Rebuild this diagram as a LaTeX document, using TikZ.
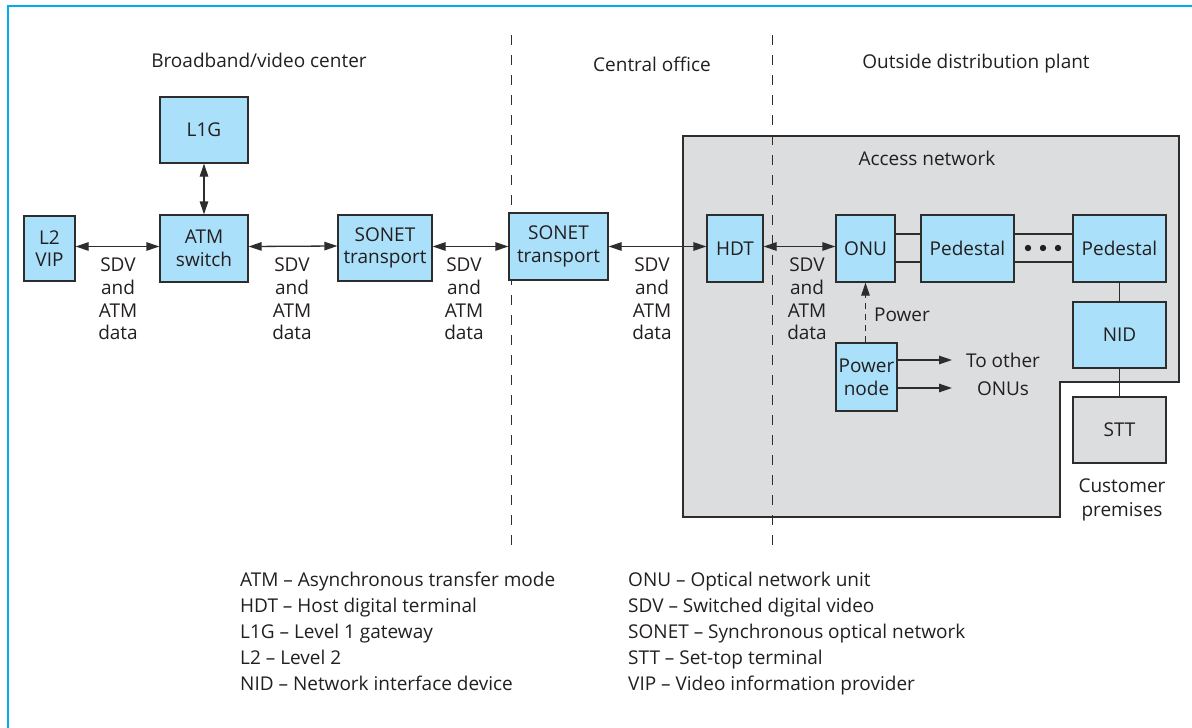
\documentclass[tikz,border=0pt]{standalone}
\usepackage{fontspec}
\setmainfont{Open Sans}
\usetikzlibrary{arrows.meta}
\definecolor{boxblue}{RGB}{170,224,249}
\definecolor{regiongray}{RGB}{220,221,222}
\definecolor{framblue}{RGB}{0,174,239}
\definecolor{inkc}{RGB}{35,31,32}
\definecolor{linec}{RGB}{45,45,45}
\tikzset{
  bx/.style={draw=linec, fill=boxblue, line width=1.3pt, inner sep=0pt, align=center, text=inkc},
  gbx/.style={bx, fill=regiongray},
  lbl/.style={align=center, text=inkc, inner sep=0pt},
  dbl/.style={line width=1.3pt, draw=linec, {Triangle[length=13pt,width=8.5pt]}-{Triangle[length=13pt,width=8.5pt]}},
  sgl/.style={line width=1.3pt, draw=linec, -{Triangle[length=13pt,width=8.5pt]}},
  plain/.style={line width=1.3pt, draw=linec},
  divider/.style={draw=linec, line width=1pt, dash pattern=on 10pt off 10pt},
}
\begin{document}
\begin{tikzpicture}[x=1pt,y=-1pt,font=\fontsize{19}{22.7}\selectfont]
\useasboundingbox (0,0) rectangle (1192,728);
% frame
\draw[framblue, line width=2.6pt] (8,728) -- (8,6) -- (1192,6);
% access network region
\draw[fill=regiongray, draw=linec, line width=1.3pt] (683,136) -- (1179,136) -- (1179,382) -- (1060,382) -- (1060,517) -- (683,517) -- cycle;
% dividers
\draw[divider] (511,35) -- (511,550);
\draw[divider] (772,35) -- (772,550);
% headings
\node[lbl] (hbvc) at (259,60) {Broadband/video center};
\node[lbl] (hco) at (652,64) {Central office};
\node[lbl] (hodp) at (976,64) {Outside distribution plant};
\node[lbl] (han) at (927,158) {Access network};
% boxes
\node[bx, minimum width=51pt, minimum height=65pt] (l2vip) at (49.5,248.5) {L2\\VIP};
\node[bx, minimum width=88pt, minimum height=66pt] (l1g) at (204,130) {L1G};
\node[bx, minimum width=88pt, minimum height=67pt] (atm) at (204,248.5) {ATM\\switch};
\node[bx, minimum width=94pt, minimum height=66pt] (sonet1) at (385,248) {SONET\\transport};
\node[bx, minimum width=99pt, minimum height=67pt] (sonet2) at (558.5,246.5) {SONET\\transport};
\node[bx, minimum width=56pt, minimum height=67pt] (hdt) at (735,248.5) {HDT};
\node[bx, minimum width=59pt, minimum height=67pt] (onu) at (865.5,248.5) {ONU};
\node[bx, minimum width=93pt, minimum height=67pt] (ped1) at (967.5,248.5) {Pedestal};
\node[bx, minimum width=93pt, minimum height=67pt] (ped2) at (1119.5,248.5) {Pedestal};
\node[bx, minimum width=93pt, minimum height=66pt] (nid) at (1119.5,335) {NID};
\node[gbx, minimum width=93pt, minimum height=66pt] (stt) at (1119.5,430) {STT};
\node[bx, minimum width=61pt, minimum height=68pt] (pwr) at (866.5,377) {Power\\node};
% connectors
\draw[dbl] (l1g.south) -- (atm.north);
\draw[dbl] ([yshift=2pt]l2vip.east) -- ([yshift=2pt]atm.west);
\draw[dbl] ([yshift=2pt]atm.east) -- ([yshift=2pt]sonet1.west);
\draw[dbl] ([yshift=1.5pt]sonet1.east) -- ([yshift=1.5pt]sonet1.east -| sonet2.west);
\draw[dbl] (sonet2.east) -- (sonet2.east -| hdt.west);
\draw[dbl] ([yshift=2pt]hdt.east) -- ([yshift=2pt]onu.west);
\draw[plain] ([yshift=14.5pt]onu.east) -- ([yshift=14.5pt]ped1.west);
\draw[plain] ([yshift=-13.5pt]onu.east) -- ([yshift=-13.5pt]ped1.west);
\draw[plain] ([yshift=14.5pt]ped1.east) -- ([yshift=14.5pt]ped2.west);
\draw[plain] ([yshift=-13.5pt]ped1.east) -- ([yshift=-13.5pt]ped2.west);
\fill[inkc] (1028,248) circle (3.2pt) (1043,248) circle (3.2pt) (1058,248) circle (3.2pt);
\draw[plain] (ped2.south) -- (nid.north);
\draw[plain] (nid.south) -- (stt.north);
\draw[sgl, dash pattern=on 6pt off 5pt] (pwr.north -| onu.south) -- (onu.south);
\coordinate (o1) at (952,360);
\coordinate (o2) at (952,388);
\draw[sgl] (pwr.east |- o1) -- (o1);
\draw[sgl] (pwr.east |- o2) -- (o2);
% labels
\node[lbl] (d1) at (118,299) {SDV\\and\\ATM\\data};
\node[lbl] (d2) at (292,299) {SDV\\and\\ATM\\data};
\node[lbl] (d3) at (464,299) {SDV\\and\\ATM\\data};
\node[lbl] (d4) at (652,299) {SDV\\and\\ATM\\data};
\node[lbl] (d5) at (807,299) {SDV\\and\\ATM\\data};
\node[lbl] (pl) at (902,315) {Power};
\node[lbl, font=\fontsize{19}{28}\selectfont] (toonu) at (1003,374) {To other\\ONUs};
\node[lbl, font=\fontsize{19}{24}\selectfont] (cust) at (1122,500) {Customer\\premises};
% legend
\node[lbl, anchor=north west, align=left, font=\fontsize{19}{26}\selectfont] (leg1) at (240,572) {ATM -- Asynchronous transfer mode\\HDT -- Host digital terminal\\L1G -- Level 1 gateway\\L2 -- Level 2\\NID -- Network interface device};
\node[lbl, anchor=north west, align=left, font=\fontsize{19}{26}\selectfont] (leg2) at (628,572) {ONU -- Optical network unit\\SDV -- Switched digital video\\SONET -- Synchronous optical network\\STT -- Set-top terminal\\VIP -- Video information provider};
\end{tikzpicture}
\end{document}
